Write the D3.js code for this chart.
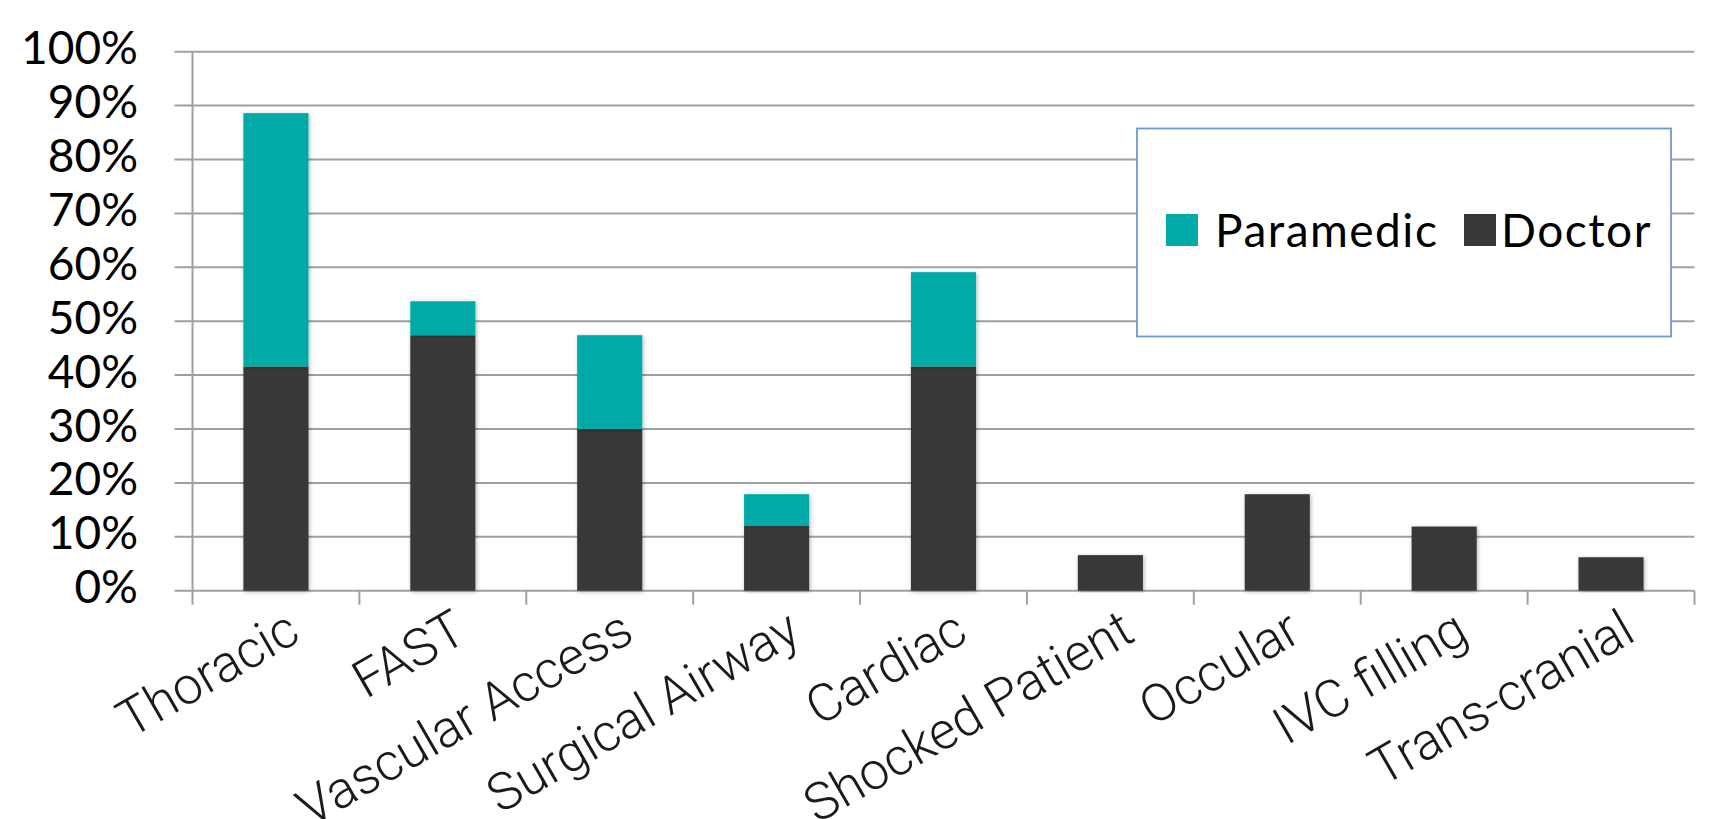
<!DOCTYPE html>
<html>
<head>
<meta charset="utf-8">
<script src="https://cdn.jsdelivr.net/npm/d3@7/dist/d3.min.js"></script>
<style>
  body { margin: 0; background: #fff; }
  svg { display: block; }
</style>
</head>
<body>
<div id="chart"></div>
<script>
// chart data (percent)
var categories = ["Thoracic", "FAST", "Vascular Access", "Surgical Airway", "Cardiac",
                  "Shocked Patient", "Occular", "IVC filling", "Trans-cranial"];
var doctor    = [41.6, 47.4, 30.0, 12.0, 41.6, 6.6, 17.9, 11.9, 6.2];
var paramedic = [47.0, 6.3, 17.4, 5.9, 17.5, 0, 0, 0, 0];
var seriesNames = ["Paramedic", "Doctor"];
var yTicks = [0, 10, 20, 30, 40, 50, 60, 70, 80, 90, 100];

var width = 1712, height = 819;
var margin = { left: 192.5, right: 17.5, top: 51.7, bottom: 228.3 };

var svg = d3.select("#chart")
  .append("svg")
    .attr("width", width)
    .attr("height", height);

// soft shadow under the bars
var defs = svg.append("defs");
var f = defs.append("filter").attr("id", "shadow")
  .attr("x", "-20%").attr("y", "-5%").attr("width", "140%").attr("height", "110%");
f.append("feDropShadow").attr("dx", 1).attr("dy", 1)
  .attr("stdDeviation", 2).attr("flood-color", "#000").attr("flood-opacity", 0.3);

var x = d3.scaleBand()
  .domain(categories)
  .range([margin.left, width - margin.right])
  .paddingInner(0.61)
  .paddingOuter(0.305);

var y = d3.scaleLinear()
  .domain([0, 100])
  .range([height - margin.bottom, margin.top]);

var color = d3.scaleOrdinal()
  .domain(seriesNames)
  .range(["#00aba7", "#373837"]);

// horizontal gridlines (extend left as ticks)
svg.append("g")
  .selectAll("line")
  .data(yTicks)
  .enter()
  .append("line")
    .attr("x1", margin.left - 18)
    .attr("x2", width - margin.right)
    .attr("y1", function(d) { return y(d); })
    .attr("y2", function(d) { return y(d); })
    .attr("stroke", "#a0a0a0")
    .attr("stroke-width", 2);

// y axis line
svg.append("line")
  .attr("x1", margin.left).attr("x2", margin.left)
  .attr("y1", y(100)).attr("y2", y(0) + 14)
  .attr("stroke", "#a0a0a0").attr("stroke-width", 2);

// x tick marks at band edges
var edges = categories.map(function(c) { return x(c) - x.step() * x.paddingInner() / 2; });
edges.push(width - margin.right);
svg.append("g")
  .selectAll("line")
  .data(edges.slice(1))
  .enter()
  .append("line")
    .attr("x1", function(d) { return d; })
    .attr("x2", function(d) { return d; })
    .attr("y1", y(0))
    .attr("y2", y(0) + 14)
    .attr("stroke", "#a0a0a0")
    .attr("stroke-width", 2);

// y labels
svg.append("g")
  .selectAll("text")
  .data(yTicks)
  .enter()
  .append("text")
    .attr("x", 138)
    .attr("y", function(d) { return y(d) + 12.5; })
    .attr("text-anchor", "end")
    .style("font-family", "Lato, 'Open Sans', sans-serif")
    .style("font-size", "46px")
    .style("fill", "#000")
    .text(function(d) { return d + "%"; });

// stacked bars
var rows = categories.map(function(c, i) {
  return { cat: c, Doctor: doctor[i], Paramedic: paramedic[i] };
});
var stack = d3.stack().keys(["Doctor", "Paramedic"]);
var layers = stack(rows);

svg.append("g")
  .selectAll("g")
  .data(layers)
  .enter()
  .append("g")
    .attr("fill", function(d) { return color(d.key); })
  .selectAll("rect")
  .data(function(d) { return d.filter(function(p) { return p[1] - p[0] > 0; }); })
  .enter()
  .append("rect")
    .attr("x", function(d) { return x(d.data.cat); })
    .attr("width", x.bandwidth())
    .attr("y", function(d) { return y(d[1]); })
    .attr("height", function(d) { return y(d[0]) - y(d[1]); })
    .attr("filter", "url(#shadow)");

// x labels, rotated
svg.append("g")
  .selectAll("text")
  .data(categories)
  .enter()
  .append("text")
    .attr("transform", function(d) {
      return "translate(" + (x(d) + x.bandwidth() / 2 + 7) + "," + (y(0) + 15) + ") rotate(-30)";
    })
    .attr("text-anchor", "end")
    .attr("dy", "0.75em")
    .style("font-family", "Roboto, 'Liberation Sans', sans-serif")
    .style("font-weight", 300)
    .style("font-size", "52px")
    .style("fill", "#1a1a1a")
    .text(function(d) { return d; });

// legend
var legend = svg.append("g");
legend.append("rect")
  .attr("x", 1137).attr("y", 128.5)
  .attr("width", 534).attr("height", 208)
  .attr("fill", "#fff")
  .attr("stroke", "#6d9bd1")
  .attr("stroke-width", 1.8);

var legendX = [1166, 1464];
var item = legend.selectAll("g.item")
  .data(seriesNames)
  .enter()
  .append("g")
    .attr("class", "item")
    .attr("transform", function(d, i) { return "translate(" + legendX[i] + ",214)"; });
item.append("rect")
  .attr("width", 32).attr("height", 32)
  .attr("fill", function(d) { return color(d); });
item.append("text")
  .attr("x", function(d, i) { return i === 0 ? 49 : 37; })
  .attr("y", 32.5)
  .style("font-family", "Lato, 'Open Sans', sans-serif")
  .style("font-size", "46px")
  .style("letter-spacing", "1.5px")
  .style("fill", "#000")
  .text(function(d) { return d; });
</script>
</body>
</html>
